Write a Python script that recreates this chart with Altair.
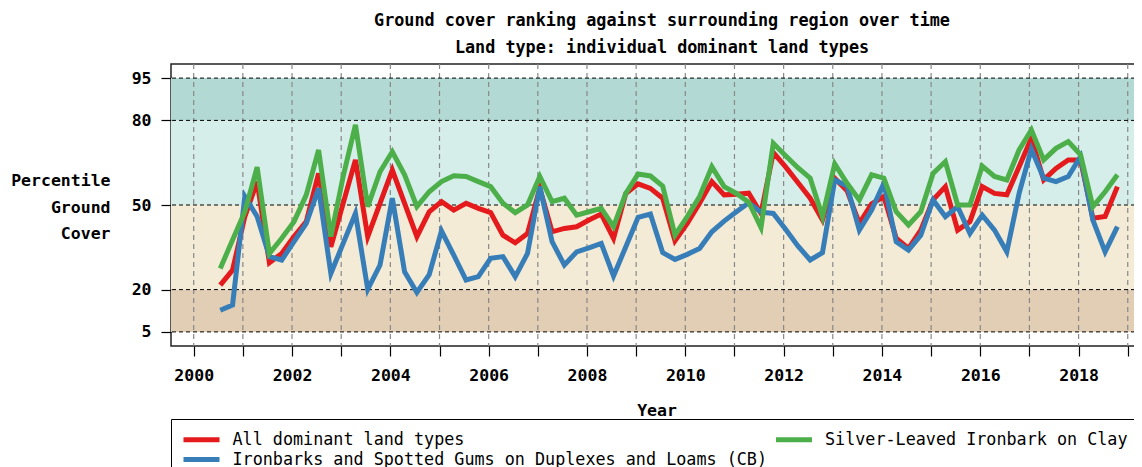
import altair as alt
import pandas as pd

F = "DejaVu Sans Mono"
FS = 16.5
FT = 16.8
FL = 16.75

# Observation times (decimal years)
years = [2000.54, 2000.79, 2001.04, 2001.29, 2001.54, 2001.79, 2002.04, 2002.29, 2002.54, 2002.79,
         2003.04, 2003.29, 2003.54, 2003.79, 2004.04, 2004.29, 2004.54, 2004.79, 2005.04, 2005.29,
         2005.54, 2005.79, 2006.04, 2006.29, 2006.54, 2006.79, 2007.04, 2007.29, 2007.54, 2007.79,
         2008.04, 2008.29, 2008.54, 2008.79, 2009.04, 2009.29, 2009.54, 2009.79, 2010.04, 2010.29,
         2010.54, 2010.79, 2011.04, 2011.29, 2011.54, 2011.79, 2012.04, 2012.29, 2012.54, 2012.79,
         2013.04, 2013.29, 2013.54, 2013.79, 2014.04, 2014.29, 2014.54, 2014.79, 2015.04, 2015.29,
         2015.54, 2015.79, 2016.04, 2016.29, 2016.54, 2016.79, 2017.04, 2017.29, 2017.54, 2017.79,
         2018.04, 2018.29, 2018.54, 2018.79]

all_dominant = [21.6, 26.9, 45.9, 58.3, 29.5, 32.8, 38.8, 44.1, 61.2, 35.2,
                50.6, 66.0, 38.8, 50.6, 62.4, 50.6, 38.8, 47.6, 51.2, 48.2,
                50.6, 48.8, 47.3, 39.3, 36.6, 39.9, 55.9, 40.5, 41.7, 42.3,
                44.7, 46.8, 38.2, 54.1, 57.5, 55.9, 52.4, 37.3, 43.5, 50.6,
                58.3, 53.6, 53.8, 54.2, 47.0, 68.6, 63.5, 58.0, 52.4, 44.7,
                59.5, 55.1, 43.5, 50.4, 53.0, 38.2, 34.6, 41.1, 51.8, 56.5,
                41.1, 44.1, 56.5, 54.1, 53.6, 63.6, 73.7, 58.9, 63.0, 66.0,
                66.0, 45.3, 45.9, 56.5]

ironbarks = [12.7, 14.5, 53.0, 45.9, 31.7, 30.5, 37.0, 43.5, 55.9, 25.7,
             36.4, 47.0, 20.1, 28.7, 52.4, 26.3, 19.0, 25.3, 40.8, 32.2,
             23.4, 24.6, 31.1, 31.7, 24.6, 32.8, 56.5, 37.0, 28.7, 33.4,
             34.8, 36.4, 24.8, 35.2, 45.6, 46.8, 33.1, 30.7, 32.5, 34.6,
             40.5, 44.3, 47.6, 50.8, 47.5, 47.0, 41.4, 35.5, 30.5, 33.1,
             58.9, 56.7, 41.1, 48.2, 57.7, 37.0, 34.0, 39.3, 51.8, 45.9,
             49.4, 39.9, 46.4, 41.1, 33.4, 54.1, 69.8, 59.5, 58.3, 60.1,
             67.2, 44.7, 33.4, 42.3]

silver_leaved = [27.5, 37.6, 47.6, 63.4, 32.8, 38.2, 44.1, 53.6, 69.5, 38.8,
                 60.1, 78.4, 49.4, 61.8, 68.9, 60.7, 49.4, 54.7, 58.3, 60.4,
                 60.1, 58.3, 56.5, 50.6, 47.3, 50.0, 60.1, 51.2, 52.4, 46.4,
                 47.6, 48.8, 42.3, 54.1, 61.0, 60.3, 56.7, 39.3, 45.9, 53.0,
                 63.6, 56.5, 54.1, 51.0, 42.0, 71.9, 67.5, 63.2, 59.5, 45.9,
                 64.6, 57.7, 51.8, 60.7, 59.5, 47.6, 42.9, 47.6, 61.2, 65.4,
                 50.0, 50.0, 63.8, 60.1, 58.9, 69.5, 76.6, 66.0, 70.1, 72.5,
                 67.8, 49.4, 54.7, 60.7]

name_all = "All dominant land types"
name_iron = "Ironbarks and Spotted Gums on Duplexes and Loams (CB)"
name_silver = "Silver-Leaved Ironbark on Clay"

legend_order = [name_all, name_iron, name_silver]
legend_colors = ["#e41a1c", "#377eb8", "#4daf4a"]

band_lo = [5, 20, 50, 80]
band_hi = [20, 50, 80, 95]
band_colors = ["#e2cdb5", "#f4ebd7", "#d5eeea", "#b2d9d3"]

threshold_values = [5, 20, 50, 80, 95]
year_ticks = list(range(2000, 2020))

x_domain = [1999.538, 2019.29]

rows = []
for name, vals in [(name_all, all_dominant), (name_iron, ironbarks), (name_silver, silver_leaved)]:
    for t, v in zip(years, vals):
        rows.append({"year": t, "value": v, "series": name})
df = pd.DataFrame(rows)

bands = pd.DataFrame({"lo": band_lo, "hi": band_hi, "col": band_colors})
thr = pd.DataFrame({"v": threshold_values})
yt = pd.DataFrame({"yr": year_ticks})

xscale = alt.Scale(domain=x_domain, nice=False, zero=False)
yscale = alt.Scale(domain=[0, 100], nice=False)

band_layer = alt.Chart(bands).mark_rect().encode(
    y=alt.Y("lo:Q", scale=yscale),
    y2="hi:Q",
    fill=alt.Fill("col:N", scale=None),
)

vgrid = alt.Chart(yt).mark_rule(color="#888888", strokeDash=[5, 4], strokeWidth=1.2).encode(
    x=alt.X("yr:Q", scale=xscale)
)

hgrid = alt.Chart(thr).mark_rule(color="black", strokeDash=[4, 3], strokeWidth=1).encode(
    y=alt.Y("v:Q", scale=yscale)
)

lines = alt.Chart(df).mark_line(strokeWidth=5).encode(
    x=alt.X("year:Q", scale=xscale,
            axis=alt.Axis(values=year_ticks, format="d",
                          labelExpr="datum.value % 2 == 0 ? datum.label : ''",
                          tickSize=10, tickColor="black", tickWidth=1.2,
                          labelPadding=11, labelFont=F, labelFontSize=FS, labelFontWeight="bold",
                          labelColor="black", domain=False, grid=False,
                          title="Year", titleFont=F, titleFontSize=FS, titleFontWeight="bold",
                          titleColor="black", titleY=64, titleBaseline="middle")),
    y=alt.Y("value:Q", scale=yscale,
            axis=alt.Axis(values=threshold_values, tickSize=10, tickColor="black", tickWidth=1.2,
                          labelPadding=10, labelFont=F, labelFontSize=FS, labelFontWeight="bold",
                          labelColor="black", domain=False, grid=False,
                          title=["Percentile", "Ground", "Cover"], titleAngle=0,
                          titleAlign="right", titleBaseline="middle", titleX=-61, titleY=116.5,
                          titleLineHeight=26.5, titleFont=F, titleFontSize=FS,
                          titleFontWeight="bold", titleColor="black")),
    color=alt.Color("series:N",
                    scale=alt.Scale(domain=legend_order, range=legend_colors),
                    legend=alt.Legend(orient="none", legendX=0, legendY=355, columns=2,
                                      title=None, strokeColor="black", padding=12,
                                      symbolType="M-3,0H3", symbolSize=144, symbolStrokeWidth=5,
                                      symbolOffset=10,
                                      labelFont=F, labelFontSize=FL, labelColor="black",
                                      labelOffset=22.5, columnPadding=-1.5, rowPadding=-1,
                                      labelLimit=1000)),
    detail="series:N",
)

chart = alt.layer(band_layer, vgrid, hgrid, lines).properties(
    width=971,
    height=282,
    title=alt.TitleParams(
        text="Ground cover ranking against surrounding region over time",
        subtitle="Land type: individual dominant land types",
        anchor="middle", dx=5.5, offset=7,
        font=F, fontSize=FT, fontWeight="bold", color="black",
        subtitleFont=F, subtitleFontSize=FT, subtitleFontWeight="bold",
        subtitleColor="black", subtitlePadding=10,
    ),
    autosize=alt.AutoSizeParams(type="none"),
    padding={"left": 163, "top": 56, "right": -8, "bottom": 121},
).configure_view(stroke="#222222", strokeWidth=1.5)

chart.save("out.html", embed_options={"renderer": "svg", "actions": False})
